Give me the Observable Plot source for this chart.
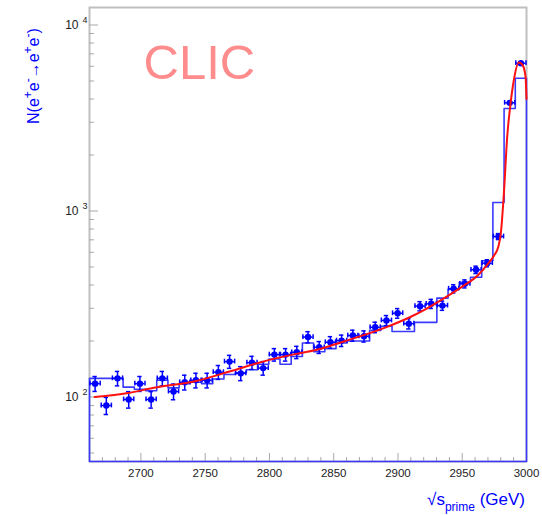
<!DOCTYPE html>
<html>
<head>
<meta charset="utf-8">
<script src="https://cdn.jsdelivr.net/npm/d3@7"></script>
<script src="https://cdn.jsdelivr.net/npm/@observablehq/plot@0.6"></script>
<style>
  body { margin: 0; background: #fff; }
  #chart { width: 542px; height: 515px; }
</style>
</head>
<body>
<div id="chart"></div>
<script>
// Luminosity spectrum near the nominal CLIC energy: reconstructed sqrt(s') of Bhabha events.
// Histogram range and binning (GeV)
const xMin = 2660, xMax = 3000, nBins = 39;

// Measured counts per bin (points with error bars)
const dataCounts = [118, 90, 126, 97, 118, 97, 126, 107, 120, 123,
                    123, 136, 155, 134, 153, 143, 169, 169, 174, 210,
                    185, 197, 201, 214, 212, 237, 258, 282, 248, 308,
                    317, 310, 382, 406, 483, 524, 729, 3816, 6231];

// Simulated spectrum per bin (step histogram)
const simCounts = [126, 126, 126, 113, 110, 108, 123, 112, 118, 120,
                   118, 125, 132, 135, 140, 150, 160, 150, 165, 195,
                   175, 182, 195, 200, 200, 228, 240, 225, 225, 252,
                   252, 340, 380, 414, 440, 540, 1110, 3555, 5175];

// Fitted spectrum, sampled along the fit function
const fitGeV = [2664, 2690, 2710, 2743, 2769, 2795, 2820, 2836, 2859, 2890,
                2910, 2922, 2936, 2950, 2962, 2970, 2975, 2978, 2980, 2982.4,
                2985, 2987.6, 2990.1, 2994, 2996.7, 2999.2, 3000];
const fitN   = [100, 105, 112, 122, 137, 155, 170, 179, 200, 236,
                270, 298, 340, 392, 450, 520, 580, 640, 757, 1240,
                2515, 3785, 5030, 6280, 6130, 5320, 4000];

// Axis ticks and labels
const xMajorTicks = [2700, 2750, 2800, 2850, 2900, 2950, 3000];
const xMinorTicks = d3.range(2660, 3001, 10).filter(v => v % 50 !== 0);
const yMajorTicks = [100, 1000, 10000];
const yMinorTicks = [50, 60, 70, 80, 90, 200, 300, 400, 500, 600, 700, 800, 900,
                     2000, 3000, 4000, 5000, 6000, 7000, 8000, 9000];
const yDomain = [45, 12420];

// Build tables
const binWidth = (xMax - xMin) / nBins;
const points = dataCounts.map((n, i) => ({
  x: xMin + (i + 0.5) * binWidth,
  n, err: Math.sqrt(n)
}));
const histPath = [{x: xMin, y: yDomain[0]}]
  .concat(simCounts.map((n, i) => ({x: xMin + i * binWidth, y: n})))
  .concat([{x: xMax, y: simCounts[simCounts.length - 1]}, {x: xMax, y: yDomain[0]}, {x: xMin, y: yDomain[0]}]);
const fit = fitGeV.map((x, i) => ({x, y: fitN[i]}));

const W = 542, H = 515;
const mL = 89, mR = 16, mT = 7, mB = 54;
const innerW = W - mL - mR, innerH = H - mT - mB;
const blue = "#0000ff", histBlue = "#3a3aff", axisGrey = "#a8a8a8";
const font = "'Liberation Sans', Arial, Helvetica, sans-serif";

const plot = Plot.plot({
  width: W, height: H,
  marginLeft: mL, marginRight: mR, marginTop: mT, marginBottom: mB,
  style: {fontFamily: font, background: "#fff"},
  x: {domain: [xMin, xMax], axis: null},
  y: {type: "log", domain: yDomain, axis: null},
  marks: [
    Plot.frame({stroke: "#c0c0c0", strokeWidth: 2}),
    // inward ticks
    Plot.ruleX(xMinorTicks, {insetTop: innerH - 4, stroke: axisGrey}),
    Plot.ruleX(xMajorTicks, {insetTop: innerH - 8, stroke: axisGrey}),
    Plot.ruleY(yMinorTicks, {insetRight: innerW - 5, stroke: axisGrey}),
    Plot.ruleY(yMajorTicks, {insetRight: innerW - 9, stroke: axisGrey}),
    // tick labels
    Plot.axisX(xMajorTicks, {tickSize: 0, tickPadding: 7, fontSize: 11.5, fill: "#222", label: null, tickFormat: d => String(d)}),
    Plot.text(yMajorTicks, {y: d => d, frameAnchor: "left", text: () => "10", dx: -11, textAnchor: "end", fontSize: 12, fill: "#222"}),
    Plot.text(yMajorTicks, {y: d => d, frameAnchor: "left", text: d => String(Math.round(Math.log10(d))), dx: -7, dy: -5, textAnchor: "start", fontSize: 9, fill: "#222"}),
    // CLIC tag
    Plot.text(["CLIC"], {frameAnchor: "top-left", dx: 54, dy: 37, lineAnchor: "top", fontSize: 49, fill: "#ff8c8c", stroke: "#fff", strokeWidth: 1.8, text: d => d}),
    // simulated spectrum
    Plot.line(histPath, {x: "x", y: "y", curve: "step-after", stroke: histBlue, strokeWidth: 1.6}),
    // data with error bars
    Plot.ruleX(points, {x: "x", y1: d => d.n - d.err, y2: d => d.n + d.err, stroke: blue, strokeWidth: 1.5}),
    Plot.ruleY(points, {y: d => d.n + d.err, x1: d => d.x - 1.7, x2: d => d.x + 1.7, stroke: blue, strokeWidth: 1.5}),
    Plot.ruleY(points, {y: d => d.n - d.err, x1: d => d.x - 1.7, x2: d => d.x + 1.7, stroke: blue, strokeWidth: 1.5}),
    Plot.ruleY(points, {y: "n", x1: d => d.x - binWidth / 2 + 0.4, x2: d => d.x + binWidth / 2 - 0.4, stroke: blue, strokeWidth: 1.5}),
    Plot.ruleX(points, {x: d => d.x - binWidth / 2 + 0.4, y1: d => d.n / 1.03, y2: d => d.n * 1.03, stroke: blue, strokeWidth: 1.5}),
    Plot.ruleX(points, {x: d => d.x + binWidth / 2 - 0.4, y1: d => d.n / 1.03, y2: d => d.n * 1.03, stroke: blue, strokeWidth: 1.5}),
    Plot.dot(points, {x: "x", y: "n", r: 3.2, fill: blue, stroke: "none"}),
    // fit
    Plot.line(fit, {x: "x", y: "y", curve: "monotone-x", stroke: "#ff1010", strokeWidth: 2})
  ]
});

document.getElementById("chart").appendChild(plot);

// Axis titles with super- and subscripts
const svg = d3.select(plot);
const yTitle = svg.append("text")
  .attr("transform", "translate(39,124) rotate(-90)")
  .attr("text-anchor", "start")
  .attr("fill", blue)
  .attr("font-size", 16)
  .attr("font-family", font);
const parts = [["N(e", 0], ["+", 1], ["e", 0], ["-", 1], ["\u2192e", 0], ["+", 1], ["e", 0], ["-", 1], [")", 0]];
let prevSup = false;
for (const [t, sup] of parts) {
  const ts = yTitle.append("tspan").text(t);
  if (sup && !prevSup) ts.attr("dy", -7);
  else if (!sup && prevSup) ts.attr("dy", 7);
  if (sup) ts.attr("font-size", "12");
  prevSup = !!sup;
}

const xTitle = svg.append("text")
  .attr("x", 525).attr("y", 505)
  .attr("text-anchor", "end")
  .attr("fill", blue)
  .attr("font-size", 17)
  .attr("font-family", font);
xTitle.append("tspan").text("\u221As");
xTitle.append("tspan").text("prime").attr("dy", 6).attr("font-size", "12");
xTitle.append("tspan").text(" (GeV)").attr("dy", -6);
</script>
</body>
</html>
